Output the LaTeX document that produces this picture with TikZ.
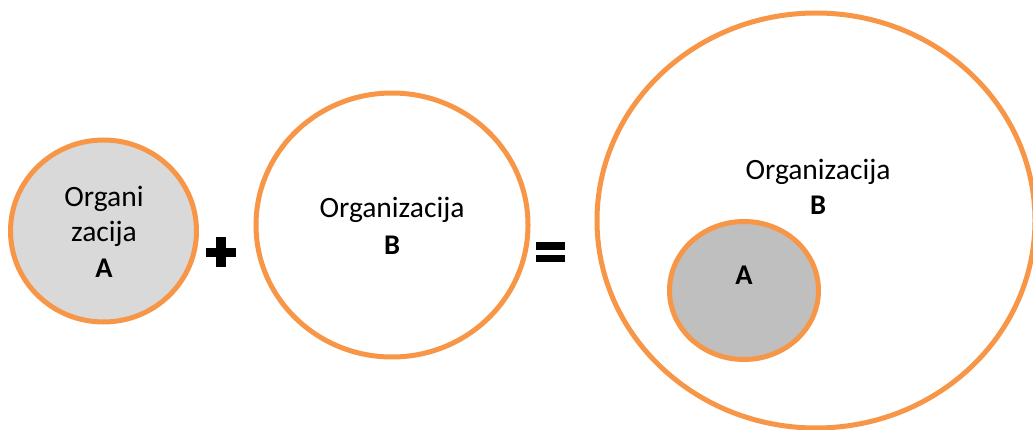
\documentclass[tikz,border=0pt]{standalone}
\usepackage{fontspec}
\setmainfont{Carlito}
\usetikzlibrary{shapes.geometric}
\definecolor{orng}{HTML}{F79646}
\definecolor{grayA}{HTML}{D9D9D9}
\definecolor{grayB}{HTML}{BFBFBF}
\begin{document}
\begin{tikzpicture}[x=1pt,y=-1pt,
  orgshape/.style={ellipse, draw=orng, line width=5pt, inner sep=0pt, outer sep=0pt},
  lbl/.style={anchor=base, inner sep=0pt, outer sep=0pt, font=\fontsize{29.5}{35}\selectfont},
  blbl/.style={lbl, font=\fontsize{28.5}{34}\selectfont\bfseries},
  signbar/.style={rectangle, fill=black, draw=none, inner sep=0pt, outer sep=0pt}]
\useasboundingbox (0,0) rectangle (1033,430);
\clip (0,0) rectangle (1033,430);
% shapes
\node[orgshape, fill=grayA, minimum width=186pt, minimum height=182pt] (orgA) at (103.5,231) {};
\node[orgshape, fill=white, minimum width=272pt, minimum height=264pt] (orgB) at (392,225) {};
\node[orgshape, fill=white, minimum width=438pt, minimum height=415pt] (orgBig) at (816,220.5) {};
\node[orgshape, fill=grayB, minimum width=149pt, minimum height=138pt] (orgInner) at (744,290.5) {};
% plus sign
\node[signbar, minimum width=29.7pt, minimum height=9.6pt] (plusH) at (221,252.5) {};
\node[signbar, minimum width=9.4pt, minimum height=30pt] (plusV) at (221,252.3) {};
% equals sign
\node[signbar, minimum width=29.6pt, minimum height=7.4pt] (eqTop) at (550.5,246) {};
\node[signbar, minimum width=29.6pt, minimum height=7.2pt] (eqBot) at (550.5,258.5) {};
% labels
\node[lbl] (tA1) at (104,207) {Organi};
\node[lbl] (tA2) at (104,242) {zacija};
\node[blbl] (tA3) at (104,277) {A};
\node[lbl] (tB1) at (392,218) {Organizacija};
\node[blbl] (tB2) at (392,255) {B};
\node[lbl] (tC1) at (818,180) {Organizacija};
\node[blbl] (tC2) at (818,215) {B};
\node[blbl] (tC3) at (744,285) {A};
\end{tikzpicture}
\end{document}
